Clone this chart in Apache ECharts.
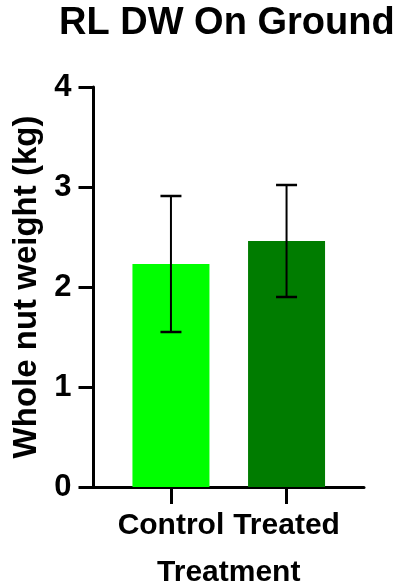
<!DOCTYPE html>
<html>
<head>
<meta charset="utf-8">
<script src="https://cdn.jsdelivr.net/npm/echarts@6/dist/echarts.min.js"></script>
<style>
  html, body { margin: 0; padding: 0; background: #ffffff; }
  #chart { width: 398px; height: 588px; }
</style>
</head>
<body>
<div id="chart"></div>
<script>
// Whole nut weight per treatment group: mean and SD
const categories = ['Control', 'Treated'];
const means = [2.23, 2.46];
const sds = [0.68, 0.56];
const barColors = ['#00FF00', '#007C00'];
const yTicks = [0, 1, 2, 3, 4];

const FONT = '"Liberation Sans", Arial, sans-serif';

// group i sits at x = i + 1 on the horizontal scale
const positions = categories.map((_, i) => i + 1);

const barData = means.map((m, i) => ({
  value: [positions[i], m],
  itemStyle: { color: barColors[i] }
}));
const errData = means.map((m, i) => [positions[i], m - sds[i], m + sds[i]]);

const chart = echarts.init(document.getElementById('chart'), null, { renderer: 'canvas' });

chart.setOption({
  animation: false,
  backgroundColor: '#ffffff',
  title: {
    text: 'RL DW On Ground',
    left: 59,
    top: 5,
    padding: 0,
    textStyle: { fontFamily: FONT, fontWeight: 'bold', fontSize: 38, color: '#000' }
  },
  grid: {
    left: 93.5, top: 87, width: 270.5, height: 400,
    containLabel: false,
    outerBoundsMode: 'none'
  },
  xAxis: {
    type: 'value',
    min: 0.33,
    max: 2.67,
    splitLine: { show: false },
    axisLine: { show: true, onZero: false, lineStyle: { color: '#000', width: 3 } },
    axisTick: {
      show: true, length: 17, inside: false,
      customValues: positions,
      lineStyle: { color: '#000', width: 3 }
    },
    axisLabel: {
      customValues: positions,
      margin: 24,
      formatter: v => categories[Math.round(v) - 1] || '',
      fontFamily: FONT, fontWeight: 'bold', fontSize: 30, color: '#000'
    },
    name: 'Treatment',
    nameLocation: 'middle',
    nameGap: 71,
    nameTextStyle: { fontFamily: FONT, fontWeight: 'bold', fontSize: 30, color: '#000' }
  },
  yAxis: {
    type: 'value',
    min: yTicks[0],
    max: yTicks[yTicks.length - 1],
    interval: 1,
    splitLine: { show: false },
    axisLine: { show: true, lineStyle: { color: '#000', width: 3 } },
    axisTick: { show: true, length: 15, lineStyle: { color: '#000', width: 3 } },
    axisLabel: {
      margin: 22,
      fontFamily: FONT, fontWeight: 'bold', fontSize: 31, color: '#000'
    },
    name: 'Whole nut weight (kg)',
    nameLocation: 'middle',
    nameGap: 50,
    nameRotate: 90,
    nameTextStyle: { fontFamily: FONT, fontWeight: 'bold', fontSize: 33, color: '#000' }
  },
  series: [
    {
      type: 'bar',
      data: barData,
      barWidth: 77,
      z: 2
    },
    {
      type: 'custom',
      z: 3,
      data: errData,
      renderItem: function (params, api) {
        const x = api.value(0);
        const lo = api.coord([x, api.value(1)]);
        const hi = api.coord([x, api.value(2)]);
        const half = 10.5;
        return {
          type: 'group',
          children: [
            { type: 'line', shape: { x1: hi[0], y1: hi[1], x2: lo[0], y2: lo[1] }, style: { stroke: '#000', lineWidth: 2 } },
            { type: 'line', shape: { x1: hi[0] - half, y1: hi[1], x2: hi[0] + half, y2: hi[1] }, style: { stroke: '#000', lineWidth: 2.5 } },
            { type: 'line', shape: { x1: lo[0] - half, y1: lo[1], x2: lo[0] + half, y2: lo[1] }, style: { stroke: '#000', lineWidth: 2.5 } }
          ]
        };
      }
    }
  ]
});
</script>
</body>
</html>
